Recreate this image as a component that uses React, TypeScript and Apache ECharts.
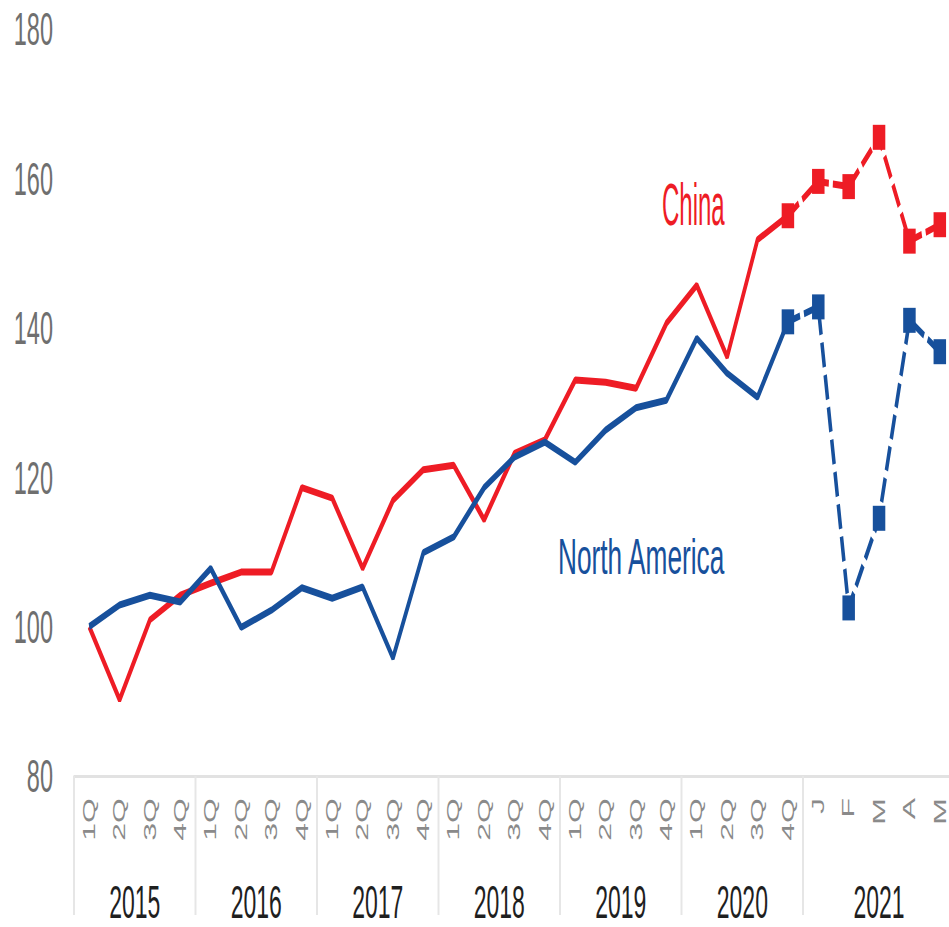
import React, { useEffect, useRef } from "react";
import * as echarts from "echarts";

// ---- data ----
const years = ["2015", "2016", "2017", "2018", "2019", "2020", "2021"];
const quarterLabels = ["1Q", "2Q", "3Q", "4Q"];
const monthLabels2021 = ["J", "F", "M", "A", "M"];
const yTicks = [80, 100, 120, 140, 160, 180];

// quarterly index values 2015 1Q .. 2020 4Q
const chinaQuarterly = [
  100, 90.2, 100.9, 104.2, 105.8, 107.3, 107.3, 118.6, 117.2, 107.8, 116.9, 121.0,
  121.6, 114.3, 123.2, 125.0, 133.0, 132.7, 131.9, 140.6, 145.7, 136.1, 151.8, 155.0,
];
const naQuarterly = [
  100, 102.9, 104.2, 103.3, 107.8, 99.9, 102.2, 105.2, 103.8, 105.3, 95.8, 109.9,
  112.0, 118.6, 122.7, 124.7, 122.0, 126.3, 129.3, 130.3, 138.6, 133.9, 130.7, 140.8,
];
// monthly values 2021 J..M
const chinaMonthly = [159.6, 158.9, 165.5, 151.6, 153.8];
const naMonthly = [142.8, 102.5, 114.5, 141.0, 136.8];

const seriesNames = ["China", "North America"];
const colors = ["#ee1c25", "#17509c"];

// ---- layout ----
const SCALE_X = 0.5;
const PAGE_W = 949;
const PAGE_H = 927;
const FONT = "'Liberation Sans', Arial, sans-serif";

export default function App() {
  const ref = useRef<HTMLDivElement>(null);

  useEffect(() => {
    if (!ref.current) return;
    const chart = echarts.init(ref.current, undefined, { renderer: "svg" });

    const groups: number[] = years.map((y, i) => (i < years.length - 1 ? quarterLabels.length : monthLabels2021.length));
    const categories: string[] = [];
    years.forEach((y, i) => {
      const labs = i < years.length - 1 ? quarterLabels : monthLabels2021;
      labs.forEach((l, j) => categories.push(y + "|" + j + "|" + l));
    });
    const groupStarts: number[] = [];
    const centers: number[] = [];
    let acc = 0;
    groups.forEach((g) => {
      groupStarts.push(acc);
      centers.push(acc + (g - 1) / 2);
      acc += g;
    });
    const nCat = categories.length;

    const lastQ = chinaQuarterly.length - 1;
    const chinaDashed = [[lastQ, chinaQuarterly[lastQ]], ...chinaMonthly.map((v, i) => [lastQ + 1 + i, v])];
    const naDashed = [[lastQ, naQuarterly[lastQ]], ...naMonthly.map((v, i) => [lastQ + 1 + i, v])];

    const solid = (data: number[], color: string, name: string) => ({
      name,
      type: "line",
      xAxisIndex: 0,
      data,
      showSymbol: false,
      symbol: "none",
      lineStyle: { color, width: 7 },
      itemStyle: { color },
      z: 3,
    });
    const dashed = (data: number[][], color: string, name: string) => ({
      name,
      type: "line",
      xAxisIndex: 0,
      data,
      symbol: "rect",
      symbolSize: 25,
      showSymbol: true,
      lineStyle: { color, width: 7, type: [25, 8] },
      itemStyle: { color },
      z: 3,
    });

    chart.setOption({
      animation: false,
      grid: { left: 148, top: 29, width: 1762, height: 747, containLabel: false, outerBoundsMode: "none" },
      xAxis: [
        {
          type: "category",
          data: categories,
          boundaryGap: true,
          axisLine: { show: true, lineStyle: { color: "#e2e2e2", width: 3 } },
          axisTick: {
            show: true,
            alignWithLabel: false,
            interval: (index: number) => groupStarts.includes(index),
            length: 139,
            lineStyle: { color: "#e6e6e6", width: 4 },
          },
          axisLabel: {
            interval: 0,
            rotate: 90,
            margin: 22,
            fontSize: 32,
            fontFamily: FONT,
            color: "#8a8a8a",
            formatter: (v: string) => v.split("|")[2],
          },
          splitLine: { show: false },
        },
        {
          type: "value",
          position: "bottom",
          min: -0.5,
          max: nCat - 0.5,
          axisLine: { show: false },
          axisTick: { show: false },
          splitLine: { show: false },
          axisLabel: {
            customValues: centers,
            margin: 103,
            fontSize: 46,
            fontFamily: FONT,
            color: "#1f1f1f",
            formatter: (v: number) => {
              const k = centers.findIndex((c) => Math.abs(c - v) < 1e-6);
              return k >= 0 ? years[k] : "";
            },
          },
        },
      ],
      yAxis: {
        type: "value",
        min: yTicks[0],
        max: yTicks[yTicks.length - 1],
        interval: yTicks[1] - yTicks[0],
        axisLine: { show: false },
        axisTick: { show: false },
        splitLine: { show: false },
        axisLabel: { margin: 42, fontSize: 47, fontFamily: FONT, color: "#6f6f6f" },
      },
      graphic: [
        {
          type: "text",
          x: 1324,
          y: 205,
          scaleX: 0.8,
          style: {
            text: seriesNames[0],
            fill: colors[0],
            font: `60px ${FONT}`,
            textAlign: "left",
            textVerticalAlign: "middle",
          },
        },
        {
          type: "text",
          x: 1116,
          y: 556,
          scaleX: 1.05,
          style: {
            text: seriesNames[1],
            fill: colors[1],
            font: `50px ${FONT}`,
            textAlign: "left",
            textVerticalAlign: "middle",
          },
        },
      ],
      series: [
        solid(chinaQuarterly, colors[0], seriesNames[0]),
        dashed(chinaDashed, colors[0], seriesNames[0]),
        solid(naQuarterly, colors[1], seriesNames[1]),
        dashed(naDashed, colors[1], seriesNames[1]),
      ],
    });

    return () => chart.dispose();
  }, []);

  return (
    <div
      style={{
        position: "fixed",
        left: 0,
        top: 0,
        width: PAGE_W,
        height: PAGE_H,
        overflow: "hidden",
        background: "#ffffff",
      }}
    >
      <div
        ref={ref}
        style={{
          position: "absolute",
          left: 0,
          top: 0,
          width: PAGE_W / SCALE_X,
          height: PAGE_H,
          transform: `scaleX(${SCALE_X})`,
          transformOrigin: "0 0",
        }}
      />
    </div>
  );
}
